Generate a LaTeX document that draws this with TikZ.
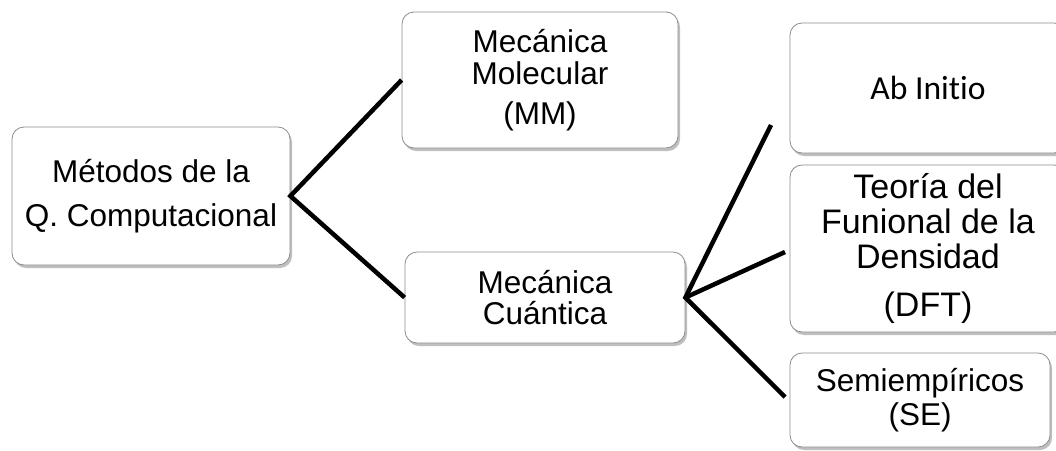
\documentclass[tikz,border=0pt]{standalone}
\usepackage{fontspec}
\setmainfont{Liberation Sans}
\newfontfamily\calib[Ligatures={NoCommon}]{Carlito}
\usetikzlibrary{shadows}
\tikzset{
  box/.style={draw=black!45, line width=0.8pt, rounded corners=12pt, fill=white,
    align=center, inner sep=0pt,
    drop shadow={shadow xshift=2pt, shadow yshift=-3pt, fill=black, opacity=0.25}},
  conn/.style={line width=4.5pt, black},
  txt/.style={font=\fontsize{31.5}{31.5}\selectfont},
  dfttxt/.style={font=\fontsize{34}{35}\selectfont},
  abtxt/.style={font=\calib\fontsize{33.6}{34}\selectfont}
}
\begin{document}
\begin{tikzpicture}[x=1pt,y=-1pt]
\useasboundingbox (0,0) rectangle (1056,450);
\node[box, txt, minimum width=278pt, minimum height=138pt] (A) at (151,196)
  {Métodos de la\\[12pt]Q. Computacional};
\node[box, txt, minimum width=276pt, minimum height=136pt] (MM) at (540,80)
  {Mecánica\\Molecular\\[8.5pt](MM)};
\node[box, txt, minimum width=280pt, minimum height=91pt] (MC) at (545,297.5)
  {Mecánica\\Cuántica};
\node[box, abtxt, minimum width=276pt, minimum height=130pt] (AB) at (928,88)
  {Ab Initio};
\node[box, dfttxt, minimum width=276pt, minimum height=167pt] (DFT) at (928,248.5)
  {Teoría del\\Funional de la\\Densidad\\[13pt](DFT)};
\node[box, txt, minimum width=260pt, minimum height=94pt] (SE) at (920,400)
  {Semiempíricos\\[3pt](SE)};
\coordinate (e1) at (771,125);
\coordinate (e2) at (785,252);
\coordinate (e3) at (785,397);
\draw[conn] (MM.west) -- (A.east) -- (MC.west);
\draw[conn] (e1) -- (MC.east) -- (e3);
\draw[conn] (MC.east) -- (e2);
\end{tikzpicture}
\end{document}
